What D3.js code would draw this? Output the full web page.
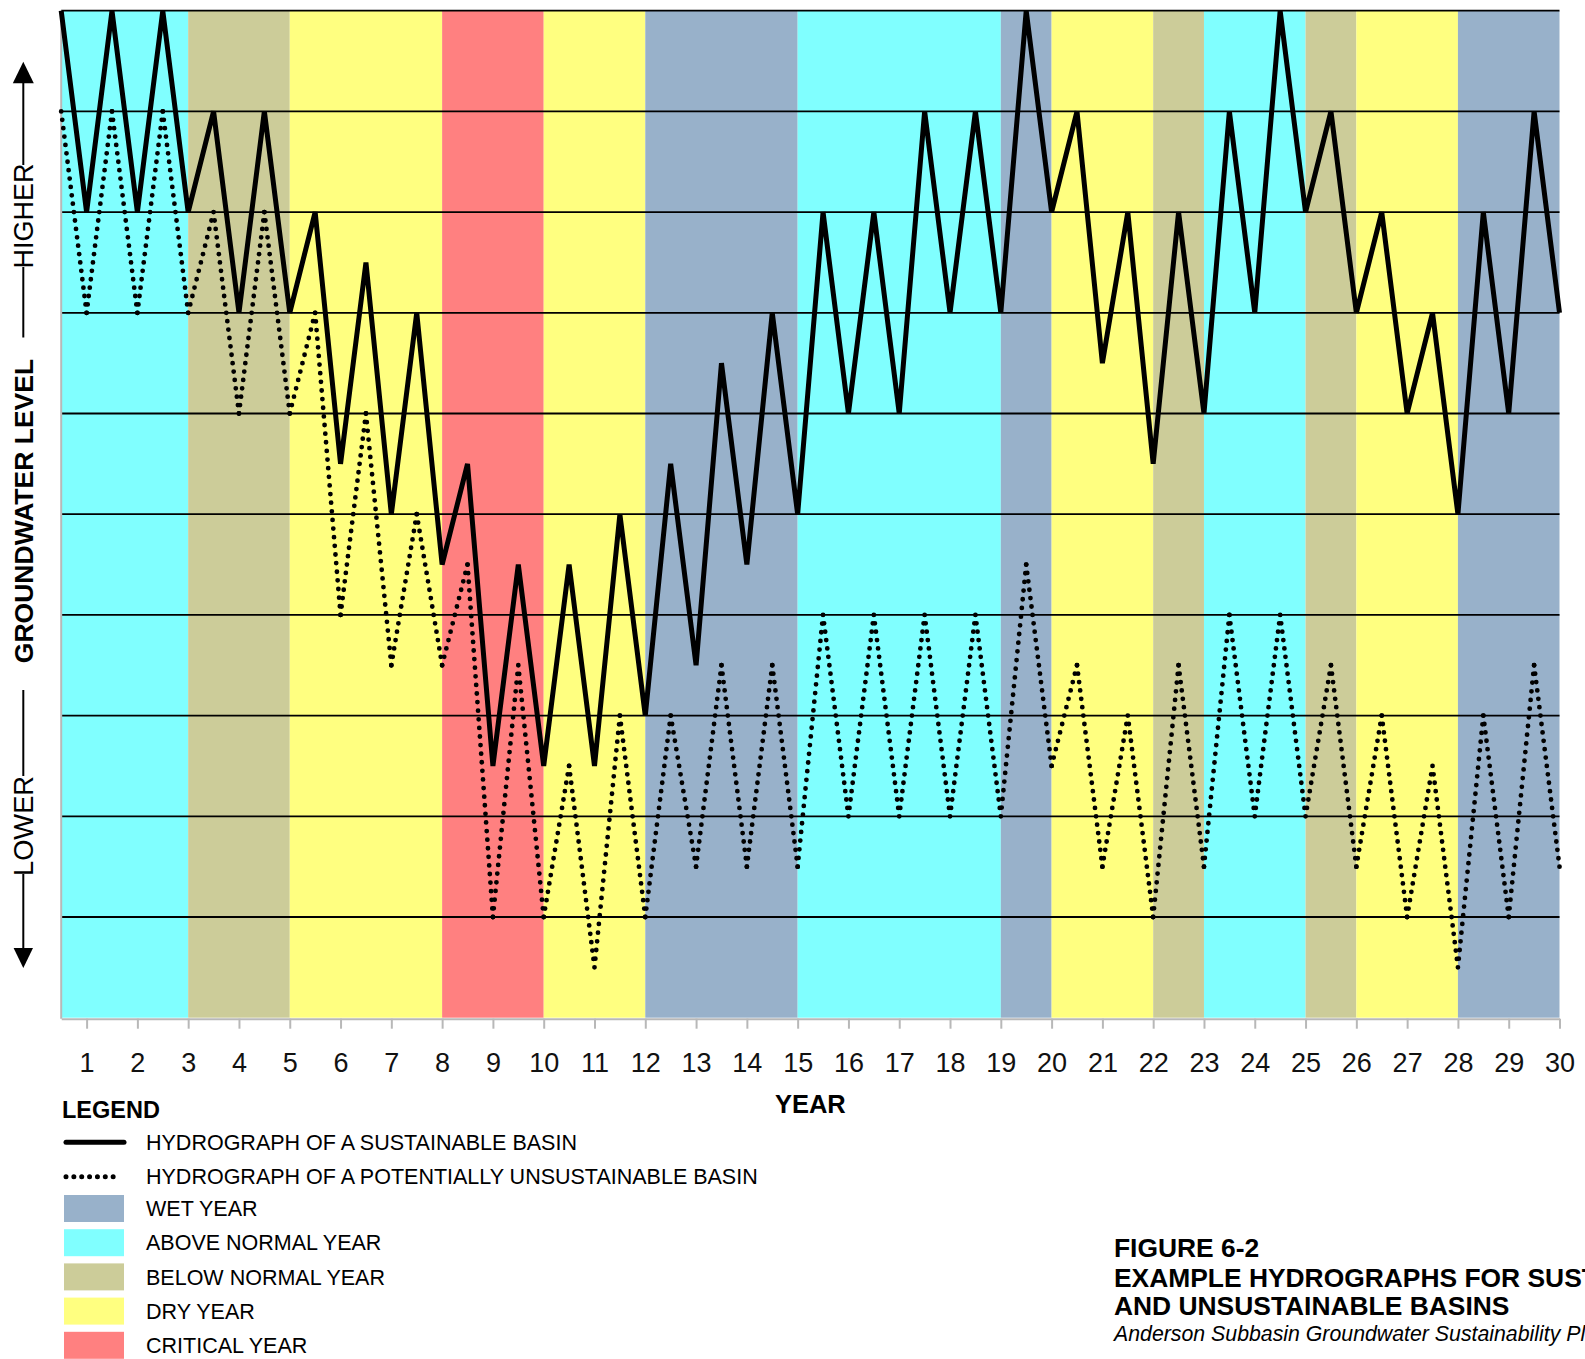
<!DOCTYPE html>
<html>
<head>
<meta charset="utf-8">
<script src="https://cdn.jsdelivr.net/npm/d3@7"></script>
<style>
  html, body { margin: 0; padding: 0; background: #fff; overflow: hidden; }
  svg { display: block; font-family: "Liberation Sans", Arial, Helvetica, sans-serif; }
</style>
</head>
<body>
<svg id="chart" width="1585" height="1359"></svg>
<script>
// ---- data ----------------------------------------------------------------
const years = d3.range(1, 31);
const tickLabels = years.map(String);

// water-year classification for each year 1..30
const yearTypes = ["AN","AN","AN","BN","BN","D","D","D","C","C",
                   "D","D","W","W","W","AN","AN","AN","AN","W",
                   "D","D","BN","AN","AN","BN","D","D","W","W"];

// groundwater level sampled every half year, from year 0.5 to year 30
const sampleTimes = d3.range(0.5, 30.001, 0.5);
const sustainable = [10,8,10,8,10,8,9,7,9,7,
                     8,5.5,7.5,5,7,4.5,5.5,2.5,4.5,2.5,
                     4.5,2.5,5,3,5.5,3.5,6.5,4.5,7,5,
                     8,6,8,6,9,7,9,7,10,8,
                     9,6.5,8,5.5,8,6,9,7,10,8,
                     9,7,8,6,7,5,8,6,9,7];
const unsustainable = [9,7,9,7,9,7,8,6,8,6,
                       7,4,6,3.5,5,3.5,4.5,1,3.5,1,
                       2.5,0.5,3,1,3,1.5,3.5,1.5,3.5,1.5,
                       4,2,4,2,4,2,4,2,4.5,2.5,
                       3.5,1.5,3,1,3.5,1.5,4,2,4,2,
                       3.5,1.5,3,1,2.5,0.5,3,1,3.5,1.5];

const gridLevels = d3.range(1, 11);

const typeKeys   = ["W","AN","BN","D","C"];
const typeNames  = ["WET YEAR","ABOVE NORMAL YEAR","BELOW NORMAL YEAR","DRY YEAR","CRITICAL YEAR"];
const typeColors = ["#98b1ca","#80ffff","#cccc99","#ffff80","#ff8080"];

// ---- layout --------------------------------------------------------------
const svg = d3.select("#chart");
const plot = { left: 61.2, right: 1559.5, top: 10.7, bottom: 1017.7 };

const x = d3.scaleLinear().domain([0.5, 30]).range([plot.left, plot.right]);
const y = d3.scaleLinear().domain([0, 10]).range([plot.bottom, plot.top]);
const color = d3.scaleOrdinal().domain(typeKeys).range(typeColors);

// ---- year-type bands (consecutive years of one type merged) --------------
const runs = [];
yearTypes.forEach((t, i) => {
  const last = runs[runs.length - 1];
  if (last && last.type === t) last.end = years[i];
  else runs.push({ type: t, start: years[i] - 1, end: years[i] });
});
svg.append("g").selectAll("rect")
  .data(runs)
  .join("rect")
  .attr("x", d => x(Math.max(d.start, 0.5)))
  .attr("width", d => x(d.end) - x(Math.max(d.start, 0.5)))
  .attr("y", plot.top)
  .attr("height", plot.bottom - plot.top)
  .attr("fill", d => color(d.type));

// ---- horizontal grid -----------------------------------------------------
svg.append("g").selectAll("line")
  .data(gridLevels)
  .join("line")
  .attr("x1", plot.left).attr("x2", plot.right)
  .attr("y1", d => y(d)).attr("y2", d => y(d))
  .attr("stroke", "#000").attr("stroke-width", 1.8);

// left frame edge
svg.append("line")
  .attr("x1", plot.left).attr("x2", plot.left)
  .attr("y1", plot.top).attr("y2", plot.bottom + 1)
  .attr("stroke", "#b8b8b8").attr("stroke-width", 2);

// ---- bottom axis ---------------------------------------------------------
const axis = svg.append("g")
  .attr("transform", `translate(0,${plot.bottom + 1})`)
  .call(d3.axisBottom(x).tickValues(years).tickFormat((d, i) => tickLabels[i])
          .tickSize(10).tickSizeOuter(0));
axis.select(".domain").attr("stroke", "#b8b8b8").attr("stroke-width", 2);
axis.selectAll(".tick line").attr("stroke", "#b8b8b8").attr("stroke-width", 2);
axis.selectAll(".tick text")
  .attr("y", 53).attr("dy", 0)
  .attr("fill", "#111")
  .style("font-family", "'Liberation Sans', Arial, sans-serif")
  .style("font-size", "27px");

svg.append("text")
  .attr("x", (plot.left + plot.right) / 2).attr("y", 1112.5)
  .attr("text-anchor", "middle")
  .style("font-weight", "bold").style("font-size", "25.5px")
  .text("YEAR");

// ---- hydrographs ---------------------------------------------------------
const pts = vals => sampleTimes.map((t, i) => [t, vals[i]]);
const line = d3.line().x(d => x(d[0])).y(d => y(d[1]));

// dotted series: each segment spaced so a dot lands on both ends
const dotSegs = d3.pairs(pts(unsustainable));
svg.append("g").selectAll("path")
  .data(dotSegs)
  .join("path")
  .attr("d", d => line(d))
  .attr("fill", "none")
  .attr("stroke", "#000")
  .attr("stroke-width", 4.8)
  .attr("stroke-linecap", "round")
  .attr("stroke-dasharray", d => {
    const dx = x(d[1][0]) - x(d[0][0]), dy = y(d[1][1]) - y(d[0][1]);
    const len = Math.hypot(dx, dy);
    const n = Math.max(1, Math.round(len / 8.6));
    return `0 ${len / n}`;
  });

svg.append("path")
  .datum(pts(sustainable))
  .attr("d", line)
  .attr("fill", "none")
  .attr("stroke", "#000")
  .attr("stroke-width", 5)
  .attr("stroke-linejoin", "miter");

// ---- vertical axis caption ----------------------------------------------
const yl = svg.append("g").attr("transform", "translate(23.3,0)");
yl.append("path").attr("d", "M0,61.7 L10.5,83.3 L-10.5,83.3 Z").attr("fill", "#000");
yl.append("path").attr("d", "M0,968 L9.7,948 L-9.7,948 Z").attr("fill", "#000");
[[83, 165], [267, 337.5], [690, 776], [874, 949]].forEach(([a, b]) =>
  yl.append("line").attr("x1", 0).attr("x2", 0).attr("y1", a).attr("y2", b)
    .attr("stroke", "#000").attr("stroke-width", 2));
const vText = (cy, txt, bold, size) => yl.append("text")
  .attr("transform", `translate(9.6,${cy}) rotate(-90)`)
  .attr("text-anchor", "middle")
  .style("font-size", size + "px")
  .style("font-weight", bold ? "bold" : "normal")
  .text(txt);
vText(216, "HIGHER", false, 27);
vText(511, "GROUNDWATER LEVEL", true, 26.5);
vText(826, "LOWER", false, 27.3);

// ---- legend --------------------------------------------------------------
const lg = svg.append("g");
lg.append("text").attr("x", 62).attr("y", 1117.5)
  .style("font-weight", "bold").style("font-size", "23.5px").text("LEGEND");

lg.append("line").attr("x1", 66).attr("x2", 124).attr("y1", 1142.3).attr("y2", 1142.3)
  .attr("stroke", "#000").attr("stroke-width", 5).attr("stroke-linecap", "round");
lg.append("line").attr("x1", 66).attr("x2", 121).attr("y1", 1176.7).attr("y2", 1176.7)
  .attr("stroke", "#000").attr("stroke-width", 5).attr("stroke-linecap", "round")
  .attr("stroke-dasharray", `0 ${55 / 7}`);
lg.append("text").attr("x", 146).attr("y", 1150).style("font-size", "21.5px")
  .text("HYDROGRAPH OF A SUSTAINABLE BASIN");
lg.append("text").attr("x", 146).attr("y", 1184.4).style("font-size", "21.5px")
  .text("HYDROGRAPH OF A POTENTIALLY UNSUSTAINABLE BASIN");

const rows = lg.selectAll("g.row").data(typeKeys).join("g")
  .attr("class", "row")
  .attr("transform", (d, i) => `translate(0,${1195 + i * 34.2})`);
rows.append("rect").attr("x", 64).attr("y", 0).attr("width", 60).attr("height", 27)
  .attr("fill", d => color(d));
rows.append("text").attr("x", 146).attr("y", 21.3).style("font-size", "21.5px")
  .text((d, i) => typeNames[i]);

// ---- figure title --------------------------------------------------------
const tt = svg.append("g");
tt.append("text").attr("x", 1114).attr("y", 1256.7)
  .style("font-weight", "bold").style("font-size", "26.4px").text("FIGURE 6-2");
tt.append("text").attr("x", 1114).attr("y", 1286.7)
  .style("font-weight", "bold").style("font-size", "26.4px").text("EXAMPLE HYDROGRAPHS FOR SUSTAINABLE");
tt.append("text").attr("x", 1114).attr("y", 1315)
  .style("font-weight", "bold").style("font-size", "26.4px").text("AND UNSUSTAINABLE BASINS");
tt.append("text").attr("x", 1114).attr("y", 1340.5)
  .style("font-style", "italic").style("font-size", "21.3px")
  .text("Anderson Subbasin Groundwater Sustainability Plan");
</script>
</body>
</html>
